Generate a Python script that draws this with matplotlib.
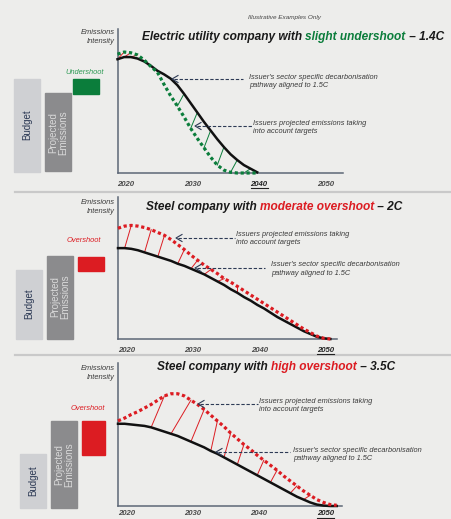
import matplotlib
matplotlib.use("Agg")
import matplotlib.pyplot as plt
from matplotlib.patches import Rectangle
from matplotlib.lines import Line2D

plt.rcParams['font.family'] = ['Liberation Sans', 'DejaVu Sans']

W, H = 451, 519

# panel 1 - electric utility
years1 = list(range(2020, 2042))
pathway1 = [79, 80.5, 80.5, 79.5, 77.5, 74.5, 71, 68.5, 65.5, 61, 55, 48.5, 42, 35.5, 29.5,
            23.5, 18, 13, 9, 5.5, 3, 0.5]
projected1 = [82.5, 84, 83.5, 82, 78.5, 74, 70, 61.5, 53.5, 46.5, 39, 31, 24, 17.5, 11,
              5.5, 2, 0.5, 0, 0, 0, 0]
over1 = [(2020, 2021), (2021, 2022), (2022, 2023)]        # pathway -> projected
under1 = [(2029, 2030), (2031, 2032), (2033, 2034), (2035, 2036), (2037, 2038), (2039, 2040)]

# panel 2 - steel, moderate overshoot
years2 = list(range(2020, 2053))
pathway2 = [64, 64, 63.5, 62.5, 61, 59.5, 58, 56.5, 55, 53,
            51.5, 49.5, 47.5, 45.5, 43, 40.5, 38, 35, 32.5, 29.5,
            27, 24, 21.5, 18.5, 15.5, 13, 10.5, 8, 5.5, 3.5,
            1.5, 0.5, 0]
projected2 = [78, 79.5, 80, 79.5, 78.5, 77, 75, 73, 70, 66.5,
              63, 59, 55.5, 52, 49, 46, 42.5, 40, 37, 34,
              31, 28, 25, 22, 19, 16, 13, 10, 7, 4.5,
              2, 0.5, 0]
over2 = [(2021, 2022), (2024, 2025), (2026, 2027), (2029, 2030), (2031, 2032),
         (2033, 2034), (2035, 2036), (2038, 2038)]

# panel 3 - steel, high overshoot
years3 = list(range(2020, 2054))
pathway3 = [57.5, 57.5, 57, 56.5, 56, 55, 53.5, 52, 50.5, 49,
            47, 45, 43, 41, 38.5, 36.5, 34, 31.5, 29, 26.5,
            24, 21.5, 19, 16.5, 14, 11.5, 9, 6.5, 4.5, 2.5,
            1, 0.3, 0, 0]
projected3 = [59.5, 61.5, 64, 66, 68.5, 71, 74, 77, 78.5, 78.5,
              77, 74, 71, 67.5, 63.5, 59.5, 55.5, 51, 47, 43,
              39.5, 35.5, 32, 28.5, 25, 21, 17.5, 14, 10.5, 7.5,
              4.5, 2.5, 1, 0.5]
over3 = [(2025, 2027), (2028, 2031), (2031, 2033), (2034, 2035), (2036, 2037),
         (2038, 2039), (2041, 2042), (2043, 2044), (2046, 2047), (2048, 2049)]

tick_years = [2020, 2030, 2040, 2050]

GREEN = '#0b7d3b'
RED = '#dc1c22'
NAVY = '#2d3a55'
TXT = '#3a3a3a'
BG = '#ededeb'

fig = plt.figure(figsize=(W / 100, H / 100), dpi=100, facecolor=BG)


def fx(x):
    return x / W


def fy(y):
    return 1 - y / H


def rect(x0, y0, x1, y1, color):
    fig.patches.append(Rectangle((fx(x0), fy(y1)), (x1 - x0) / W, (y1 - y0) / H,
                                 transform=fig.transFigure, color=color, zorder=1))


def hline(x0, x1, y, color, lw, ls='-'):
    fig.add_artist(Line2D([fx(x0), fx(x1)], [fy(y), fy(y)], transform=fig.transFigure,
                          color=color, lw=lw, ls=ls))


def pointer(x_start, x_tip, y):
    hline(x_tip + 2, x_start, y, NAVY, 0.8, (0, (3, 1.6)))
    fig.add_artist(Line2D([fx(x_tip + 6), fx(x_tip), fx(x_tip + 6)],
                          [fy(y - 3.5), fy(y), fy(y + 3.5)], transform=fig.transFigure,
                          color=NAVY, lw=0.8))


def note(x, y, s):
    fig.text(fx(x), fy(y), s, fontsize=5.3, style='italic', color=TXT, va='center',
             ha='left', linespacing=1.25)


def title(x0, yc, parts):
    r = fig.canvas.get_renderer()
    x = x0
    for s, c in parts:
        t = fig.text(fx(x), fy(yc), s, color=c, fontsize=8.6, fontweight='bold',
                     style='italic', va='center', ha='left')
        x += t.get_window_extent(renderer=r).width


def panel(left, top, right, bottom, xmax, years, path, proj, proj_color, pairs_over,
          pairs_under, bold_year, pad=5.5, uline=15):
    ax = fig.add_axes([fx(left), fy(bottom), (right - left) / W, (bottom - top) / H])
    ax.set_facecolor('none')
    ax.set_xlim(2020, xmax)
    ax.set_ylim(0, 100)
    for s in ['top', 'right']:
        ax.spines[s].set_visible(False)
    for s in ['left', 'bottom']:
        ax.spines[s].set_color('#5d6776')
        ax.spines[s].set_linewidth(1.1)
    ax.set_yticks([])
    ax.set_xticks(tick_years)
    ax.set_xticklabels([str(t) for t in tick_years])
    ax.tick_params(axis='x', length=0, pad=pad)
    for lab, t in zip(ax.get_xticklabels(), tick_years):
        lab.set_fontsize(5.6)
        lab.set_fontweight('bold')
        lab.set_fontstyle('italic')
        lab.set_ha('left')
        lab.set_color('#222222' if t == bold_year else '#4a4a4a')
    pv = dict(zip(years, path))
    qv = dict(zip(years, proj))
    for a, b in pairs_over:
        ax.plot([a, b], [pv[a], qv[b]], color=RED, lw=0.7, clip_on=False)
    for a, b in pairs_under:
        ax.plot([a, b], [qv[a], pv[b]], color=GREEN, lw=0.7, clip_on=False)
    ax.plot(years, path, color='#111111', lw=1.8, clip_on=False, zorder=3)
    ax.plot(years, proj, color=proj_color, lw=2.3, ls=(0, (1, 0.85)), clip_on=False,
            zorder=4)
    # underline on the target year
    px = left + (bold_year - 2020) * (right - left) / (xmax - 2020)
    hline(px, px + 17, bottom + uline, '#222222', 0.8)
    return ax


# header and separators
fig.text(fx(285), fy(18), 'Illustrative Examples Only', fontsize=4.6, style='italic',
         color='#444444', ha='center', va='center')
hline(15, 451, 192, '#c9c9c9', 1.6)
hline(15, 451, 355, '#c9c9c9', 1.6)

# ---- panel 1
panel(117.5, 29, 343, 173, 2053.9, years1, pathway1, projected1, GREEN, over1, under1, 2040)
title(142, 37, [('Electric utility company with ', '#1a1a1a'), ('slight undershoot', GREEN),
                (' \u2013 1.4C', '#1a1a1a')])
fig.text(fx(115), fy(37), 'Emissions\nIntensity', fontsize=5.4, style='italic', color=TXT,
         ha='right', va='center', linespacing=1.3)
rect(14, 79, 40, 172, '#cfd0d3')
rect(45, 93, 71, 171, '#8b8b8d')
rect(73, 79, 99, 94, GREEN)
fig.text(fx(85), fy(73), 'Undershoot', fontsize=5.4, style='italic', color='#2e9a55',
         ha='center', va='center')
fig.text(fx(27), fy(125), 'Budget', fontsize=7, rotation=90, color=NAVY, ha='center',
         va='center')
fig.text(fx(58), fy(133), 'Projected\nEmissions', fontsize=7, rotation=90, color='#d9d9d9',
         ha='center', va='center', linespacing=1.0)
pointer(243, 172, 79)
note(249, 81.5, "Issuer's sector specific decarbonisation\npathway aligned to 1.5C")
pointer(253, 195, 126)
note(253, 127.5, 'Issuers projected emissions taking\ninto account targets')

# ---- panel 2
panel(118, 197, 337, 339, 2053.0, years2, pathway2, projected2, RED, over2, [], 2050)
title(146, 207, [('Steel company with ', '#1a1a1a'), ('moderate overshoot', RED),
                 (' \u2013 2C', '#1a1a1a')])
fig.text(fx(115), fy(207), 'Emissions\nIntensity', fontsize=5.4, style='italic', color=TXT,
         ha='right', va='center', linespacing=1.3)
rect(16, 270, 42, 339, '#cfd0d3')
rect(47, 256, 73, 339, '#8b8b8d')
rect(78, 257, 104, 271, RED)
fig.text(fx(84), fy(240), 'Overshoot', fontsize=5.4, style='italic', color=RED,
         ha='center', va='center')
fig.text(fx(29), fy(304), 'Budget', fontsize=7, rotation=90, color=NAVY, ha='center',
         va='center')
fig.text(fx(60), fy(297), 'Projected\nEmissions', fontsize=7, rotation=90, color='#d9d9d9',
         ha='center', va='center', linespacing=1.0)
pointer(235, 176, 238)
note(236, 238.5, 'Issuers projected emissions taking\ninto account targets')
pointer(265, 195, 268)
note(271, 269, "Issuer's sector specific decarbonisation\npathway aligned to 1.5C")

# ---- panel 3
panel(118, 363, 342, 506, 2053.8, years3, pathway3, projected3, RED, over3, [], 2050,
      pad=3.0, uline=12)
title(157, 367, [('Steel company with ', '#1a1a1a'), ('high overshoot', RED),
                 (' \u2013 3.5C', '#1a1a1a')])
fig.text(fx(115), fy(373), 'Emissions\nIntensity', fontsize=5.4, style='italic', color=TXT,
         ha='right', va='center', linespacing=1.3)
rect(20, 454, 46, 508, '#cfd0d3')
rect(51, 421, 77, 508, '#8b8b8d')
rect(82, 421, 105, 455, RED)
fig.text(fx(88), fy(409), 'Overshoot', fontsize=5.4, style='italic', color=RED,
         ha='center', va='center')
fig.text(fx(33), fy(481), 'Budget', fontsize=7, rotation=90, color=NAVY, ha='center',
         va='center')
fig.text(fx(64), fy(465), 'Projected\nEmissions', fontsize=7, rotation=90, color='#d9d9d9',
         ha='center', va='center', linespacing=1.0)
pointer(258, 198, 404)
note(259, 405.5, 'Issuers projected emissions taking\ninto account targets')
pointer(290, 216, 452)
note(293, 454.5, "Issuer's sector specific decarbonisation\npathway aligned to 1.5C")

fig.savefig('out.png', dpi=100, facecolor=BG)
